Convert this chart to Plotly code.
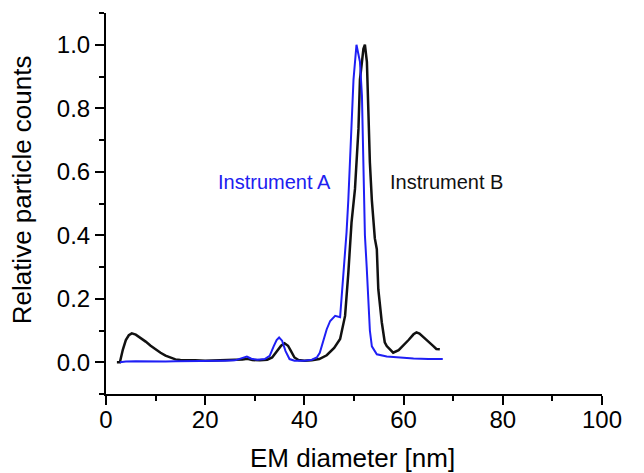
import plotly.graph_objects as go

# Instrument B (black)
b_x = [2.2, 2.8, 3.4, 4.0, 4.6, 5.2, 6.0, 7.0, 8.0, 9.0, 10.0, 11.0, 12.0, 13.0, 14.0,
       15.0, 16.0, 18.0, 20.0, 22.0, 24.0, 26.0, 27.5, 28.5, 29.5, 31.0, 32.5, 33.5,
       34.5, 35.3, 36.0, 36.7, 37.3, 38.0, 38.8, 40.0, 41.5, 43.0, 44.5, 46.0, 47.2,
       48.2, 48.85, 49.5, 50.2, 50.9, 51.2, 51.9, 52.2, 52.6, 52.9, 53.2, 53.6, 54.2,
       54.6, 54.9, 55.6, 56.2, 56.6, 57.9, 59.0, 59.9, 61.0, 62.0, 62.6, 63.2, 64.0,
       65.0, 66.0, 66.6, 67.3]
b_y = [0.0, 0.0, 0.04, 0.07, 0.085, 0.091, 0.087, 0.077, 0.065, 0.052, 0.04, 0.03,
       0.021, 0.014, 0.009, 0.007, 0.006, 0.006, 0.005, 0.006, 0.005, 0.006, 0.009,
       0.011, 0.007, 0.006, 0.008, 0.015, 0.035, 0.052, 0.06, 0.052, 0.035, 0.015,
       0.007, 0.005, 0.006, 0.01, 0.022, 0.045, 0.073, 0.146, 0.28, 0.44, 0.546, 0.735,
       0.89, 0.987, 1.0, 0.946, 0.79, 0.63, 0.51, 0.39, 0.356, 0.23, 0.126, 0.063,
       0.051, 0.03, 0.038, 0.051, 0.07, 0.088, 0.094, 0.09, 0.08, 0.065, 0.051, 0.042,
       0.041]

# Instrument A (blue)
a_x = [2.8, 4, 6, 8, 10, 12, 14, 16, 18, 20, 22, 24, 26, 27.5, 28.4, 29.3, 30.5, 32,
       33, 33.8, 34.4, 34.9, 35.5, 36.2, 37.0, 38, 40, 41.5, 42.5, 43.1, 43.7, 44.5,
       45.2, 46.2, 47.2, 47.8, 48.5, 48.85, 49.5, 49.9, 50.5, 51.2, 51.6, 51.8, 52.0,
       52.2, 52.56, 52.9, 53.2, 53.6, 54.6, 56.6, 59.3, 62, 65, 67.9]
a_y = [0.0, 0.002, 0.003, 0.002, 0.003, 0.002, 0.003, 0.003, 0.004, 0.004, 0.004,
       0.005, 0.006, 0.013, 0.018, 0.011, 0.008, 0.01, 0.02, 0.05, 0.07, 0.078, 0.068,
       0.035, 0.01, 0.005, 0.005, 0.008, 0.015, 0.03, 0.06, 0.104, 0.13, 0.146, 0.142,
       0.26, 0.41, 0.51, 0.735, 0.89, 1.0, 0.946, 0.84, 0.68, 0.51, 0.4, 0.3, 0.2,
       0.1, 0.05, 0.025, 0.018, 0.014, 0.012, 0.01, 0.01]

font = "Liberation Sans, Arial, sans-serif"

fig = go.Figure()
fig.add_trace(go.Scatter(x=b_x, y=b_y, mode="lines", line=dict(color="#111111", width=2.5),
                         name="Instrument B"))
fig.add_trace(go.Scatter(x=a_x, y=a_y, mode="lines", line=dict(color="#1f1ff5", width=2),
                         name="Instrument A"))

fig.add_annotation(x=33.9, y=0.568, text="Instrument A", showarrow=False,
                   font=dict(family=font, size=20, color="#2020f0"))
fig.add_annotation(x=68.6, y=0.568, text="Instrument B", showarrow=False,
                   font=dict(family=font, size=20, color="#111111"))

# axis titles
fig.add_annotation(xref="paper", yref="paper", x=0.496, y=-0.168, text="EM diameter [nm]",
                   xanchor="center", yanchor="middle",
                   showarrow=False, font=dict(family=font, size=26, color="black"))
fig.add_annotation(xref="paper", yref="paper", x=-0.169, y=0.535, text="Relative particle counts",
                   xanchor="center", yanchor="middle",
                   textangle=-90, showarrow=False, font=dict(family=font, size=26, color="black"))

axis_common = dict(
    showline=True, linecolor="black", linewidth=2,
    ticks="outside", ticklen=9, tickwidth=2, tickcolor="black",
    showgrid=False, zeroline=False, automargin=False,
    tickfont=dict(family=font, size=24, color="black"),
    mirror=False,
)

# page body has an 8px margin, so the figure is 8px smaller than the window
fig.update_layout(
    width=636, height=465,
    margin=dict(l=98, r=42, t=5, b=79),
    plot_bgcolor="white", paper_bgcolor="white",
    showlegend=False,
    xaxis=dict(range=[0, 100], dtick=20, tick0=0, ticklabelstandoff=-6,
               minor=dict(dtick=10, ticks="outside", ticklen=5, tickwidth=2, tickcolor="black"),
               **axis_common),
    yaxis=dict(range=[-0.1, 1.1], dtick=0.2, tick0=0, tickformat=".1f",
               minor=dict(dtick=0.1, ticks="outside", ticklen=5, tickwidth=2, tickcolor="black"),
               **axis_common),
)

fig.write_html("out.html")
